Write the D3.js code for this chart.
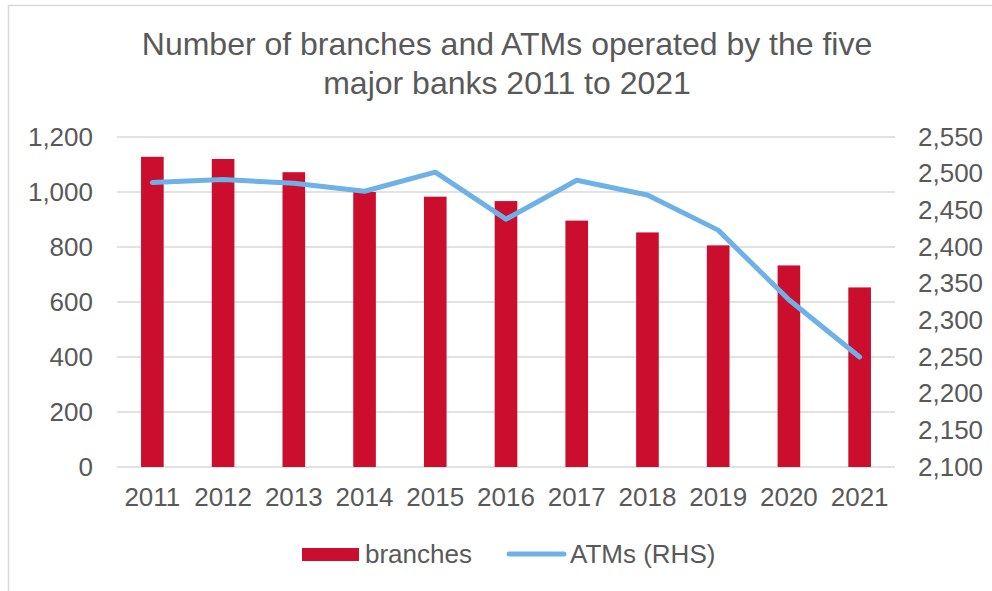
<!DOCTYPE html>
<html>
<head>
<meta charset="utf-8">
<script src="https://cdn.jsdelivr.net/npm/d3@7"></script>
<style>
  html, body { margin: 0; padding: 0; background: #fff; }
  svg { display: block; font-family: "Liberation Sans", Arial, sans-serif; }
</style>
</head>
<body>
<svg id="chart" width="992" height="591"></svg>
<script>
// Years on the category axis
const years = ["2011", "2012", "2013", "2014", "2015", "2016", "2017", "2018", "2019", "2020", "2021"];
// Branches operated by the five major banks (left axis)
const branches = [1128, 1120, 1072, 1000, 983, 967, 896, 853, 806, 733, 653];
// ATMs operated by the five major banks (right axis)
const atms = [2488, 2492, 2487, 2476, 2502, 2438, 2491, 2471, 2423, 2328, 2250];
// Axis tick values
const leftTicks = [0, 200, 400, 600, 800, 1000, 1200];
const rightTicks = [2100, 2150, 2200, 2250, 2300, 2350, 2400, 2450, 2500, 2550];
const titleLines = ["Number of branches and ATMs operated by the five", "major banks 2011 to 2021"];
const legendItems = ["branches", "ATMs (RHS)"];

const svg = d3.select("#chart");
const textColor = "#595959";
const gridColor = "#d9d9d9";
const barColor = "#cc0e2e";
const lineColor = "#6db1e6";

const plot = { left: 117, right: 895, top: 137, bottom: 467 };

// outer chart frame
svg.append("rect")
  .attr("x", 8.5).attr("y", 5.5)
  .attr("width", 1000).attr("height", 600)
  .attr("fill", "#fff")
  .attr("stroke", gridColor).attr("stroke-width", 1.5);

const x = d3.scaleBand().domain(years).range([plot.left, plot.right]);
const yL = d3.scaleLinear().domain([0, 1200]).range([plot.bottom, plot.top]);
const yR = d3.scaleLinear().domain([2100, 2550]).range([plot.bottom, plot.top]);

// title
svg.append("g").selectAll("text").data(titleLines).join("text")
  .attr("x", 507)
  .attr("y", (d, i) => 55 + i * 39)
  .attr("text-anchor", "middle")
  .attr("font-size", 32)
  .attr("fill", textColor)
  .text(d => d);

// horizontal gridlines
svg.append("g").selectAll("line").data(leftTicks).join("line")
  .attr("x1", plot.left).attr("x2", plot.right)
  .attr("y1", d => yL(d)).attr("y2", d => yL(d))
  .attr("stroke", gridColor).attr("stroke-width", 1.5);

// left axis labels
const leftAxis = d3.axisLeft(yL).tickValues(leftTicks).tickSize(0).tickPadding(0)
  .tickFormat(d3.format(","));
svg.append("g")
  .attr("transform", `translate(${plot.left - 24},0)`)
  .call(leftAxis)
  .call(g => g.select(".domain").remove())
  .call(g => g.selectAll("text").attr("font-size", 26).attr("fill", textColor)
    .attr("font-family", "Liberation Sans, Arial, sans-serif"));

// right axis labels
const rightAxis = d3.axisRight(yR).tickValues(rightTicks).tickSize(0).tickPadding(0)
  .tickFormat(d3.format(","));
svg.append("g")
  .attr("transform", `translate(918,0)`)
  .call(rightAxis)
  .call(g => g.select(".domain").remove())
  .call(g => g.selectAll("text").attr("font-size", 26).attr("fill", textColor)
    .attr("font-family", "Liberation Sans, Arial, sans-serif"));

// bottom axis labels
const bottomAxis = d3.axisBottom(x).tickSize(0).tickPadding(0);
svg.append("g")
  .attr("transform", `translate(0,${plot.bottom})`)
  .call(bottomAxis)
  .call(g => g.select(".domain").remove())
  .call(g => g.selectAll("text").attr("font-size", 26).attr("fill", textColor)
    .attr("font-family", "Liberation Sans, Arial, sans-serif")
    .attr("dy", null).attr("y", 39));

// bars
const barW = x.bandwidth() * 0.32;
svg.append("g").selectAll("rect").data(branches).join("rect")
  .attr("x", (d, i) => x(years[i]) + x.bandwidth() / 2 - barW / 2)
  .attr("width", barW)
  .attr("y", d => yL(d))
  .attr("height", d => yL(0) - yL(d))
  .attr("fill", barColor);

// ATM line
const line = d3.line()
  .x((d, i) => x(years[i]) + x.bandwidth() / 2)
  .y(d => yR(d));
svg.append("path")
  .datum(atms)
  .attr("d", line)
  .attr("fill", "none")
  .attr("stroke", lineColor)
  .attr("stroke-width", 5)
  .attr("stroke-linejoin", "round")
  .attr("stroke-linecap", "round");

// legend
const legend = svg.append("g");
legend.append("rect")
  .attr("x", 302).attr("y", 548).attr("width", 57).attr("height", 13)
  .attr("fill", barColor);
legend.append("text")
  .attr("x", 365).attr("y", 563)
  .attr("font-size", 26).attr("fill", textColor)
  .text(legendItems[0]);
legend.append("line")
  .attr("x1", 509).attr("x2", 564).attr("y1", 554).attr("y2", 554)
  .attr("stroke", lineColor).attr("stroke-width", 5).attr("stroke-linecap", "round");
legend.append("text")
  .attr("x", 570).attr("y", 563)
  .attr("font-size", 26).attr("fill", textColor)
  .text(legendItems[1]);
</script>
</body>
</html>
